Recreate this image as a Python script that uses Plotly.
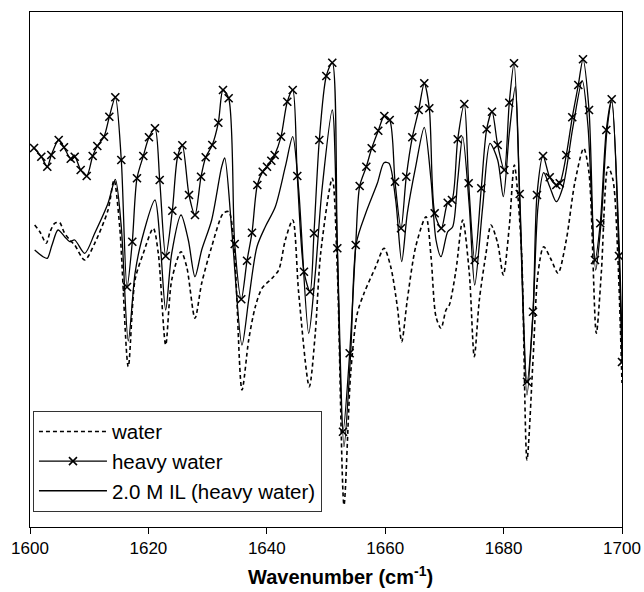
import plotly.graph_objects as go

# Wavenumber (cm-1) and second-derivative-like intensities (arbitrary units)
water_wn = [1600.79, 1601.69, 1602.75, 1603.38, 1604.17, 1605.02, 1605.74, 1606.71, 1607.55, 1609.24,
            1610.93, 1613.18, 1614.19, 1615.15, 1616.60, 1617.74, 1619.14, 1620.83, 1621.67, 1622.92,
            1623.94, 1625.51, 1626.47, 1627.87, 1629.00, 1630.69, 1632.65, 1633.56, 1634.41, 1635.81,
            1636.94, 1638.06, 1639.19, 1640.88, 1642.01, 1643.13, 1644.38, 1645.39, 1647.18, 1648.19,
            1649.10, 1651.06, 1651.91, 1653.04, 1654.17, 1655.29, 1656.42, 1658.40, 1659.80, 1660.93,
            1662.05, 1662.79, 1663.73, 1665.15, 1666.89, 1667.74, 1668.58, 1669.43, 1670.27, 1670.83,
            1671.96, 1673.09, 1674.21, 1675.05, 1675.90, 1677.03, 1677.87, 1679.00, 1679.95, 1680.96,
            1681.81, 1682.99, 1683.95, 1684.97, 1685.81, 1686.77, 1688.06, 1689.19, 1690.59, 1692.01,
            1693.53, 1694.43, 1695.66, 1696.50, 1697.64, 1698.48, 1699.32, 1700.00]
water_val = [302, 295, 283.7, 295, 303.7, 304.3, 295, 287, 282, 267,
             283.7, 317, 347, 300.3, 160.3, 247, 273.7, 298.7, 273.7, 182,
             247, 275.3, 260.3, 208.7, 243.7, 280.3, 313.7, 315.3, 287, 137,
             187, 220.3, 238.7, 248.7, 257, 287, 307, 233.7, 140.3, 193.7,
             273.7, 348.7, 257, 22, 153.7, 213.7, 233.7, 260.3, 278.7, 260.3,
             220.3, 185.3, 227, 280.3, 310.3, 270.3, 210.3, 198.7, 217, 222,
             257, 307, 253.7, 170.3, 227, 273.7, 302, 283.7, 252, 300.3,
             362, 280.3, 67, 167, 253.7, 280.3, 267, 253.7, 287, 343.7,
             378.7, 353.7, 193.7, 253.7, 360.3, 347, 267, 144]

heavy_wn = [1600.68, 1601.91, 1602.92, 1603.60, 1604.85, 1605.74, 1606.88, 1607.55, 1608.56, 1609.58,
            1610.59, 1611.37, 1612.50, 1613.40, 1614.41, 1615.42, 1616.39, 1617.28, 1618.07, 1619.14,
            1620.10, 1621.11, 1621.91, 1622.92, 1624.04, 1624.95, 1625.73, 1626.86, 1627.87, 1628.89,
            1629.68, 1630.79, 1631.81, 1632.60, 1633.56, 1634.58, 1635.69, 1636.66, 1637.50, 1638.40,
            1639.31, 1640.03, 1640.76, 1641.33, 1642.40, 1643.46, 1644.38, 1645.15, 1646.28, 1647.30,
            1647.97, 1648.87, 1650.05, 1651.06, 1651.91, 1652.87, 1654.00, 1655.02, 1655.69, 1656.81,
            1657.72, 1658.83, 1659.85, 1660.76, 1661.66, 1662.67, 1663.56, 1664.58, 1665.66, 1666.60,
            1667.45, 1668.36, 1669.48, 1670.56, 1671.28, 1672.25, 1673.36, 1674.10, 1675.12, 1676.23,
            1677.14, 1678.04, 1679.00, 1680.12, 1680.96, 1681.76, 1682.72, 1683.95, 1684.97, 1685.64,
            1686.66, 1687.79, 1688.90, 1689.48, 1690.59, 1691.60, 1692.62, 1693.41, 1694.43, 1695.44,
            1696.33, 1697.35, 1698.26, 1699.49, 1700.00]
heavy_val = [379, 370.3, 360.3, 372, 387, 379.7, 368.3, 370.3, 357, 351,
             371, 381, 390.3, 410.3, 429.7, 367, 240, 285.3, 348.7, 371,
             389.7, 398.7, 347, 271, 316.3, 371, 381.7, 332, 312, 350.3,
             369.7, 382, 404.3, 437, 428.7, 283, 227.7, 266.3, 294.3, 342,
             355.3, 360.3, 366.3, 372, 390.3, 425.3, 437, 351, 255.3, 235.3,
             293.7, 387, 451, 464.3, 278.7, 95.3, 173.7, 282, 341, 360.3,
             378.7, 396.3, 411, 407, 345.3, 298.7, 350.3, 389.7, 417, 443.7,
             418.7, 313.7, 298.7, 324.3, 327, 387.7, 423, 343.7, 267, 338.7,
             397.7, 415.3, 382, 357, 424.3, 463.7, 333, 145.3, 215.3, 332,
             371, 349.7, 342, 343.7, 372, 409.7, 442, 467.7, 417, 267,
             303.7, 397, 427.7, 271, 165]

il_wn = [1600.79, 1602.20, 1602.92, 1603.72, 1604.73, 1605.86, 1606.71, 1607.55, 1609.24, 1610.93,
         1613.18, 1614.41, 1615.42, 1616.60, 1617.74, 1618.87, 1621.11, 1621.96, 1622.92, 1623.94,
         1625.51, 1626.74, 1627.87, 1629.00, 1630.69, 1632.38, 1632.89, 1634.12, 1635.81, 1636.94,
         1638.34, 1639.75, 1641.44, 1643.13, 1644.38, 1645.39, 1647.08, 1648.19, 1649.32, 1651.06,
         1651.91, 1653.04, 1654.17, 1655.12, 1656.71, 1658.67, 1659.80, 1660.64, 1661.77, 1662.79,
         1663.73, 1665.15, 1666.60, 1667.74, 1668.58, 1669.43, 1670.56, 1671.40, 1672.25, 1673.09,
         1674.21, 1675.12, 1676.47, 1677.70, 1679.00, 1679.95, 1680.96, 1681.98, 1682.72, 1683.95,
         1684.97, 1685.81, 1686.77, 1687.79, 1688.90, 1690.03, 1691.72, 1693.29, 1694.26, 1695.56,
         1696.50, 1697.47, 1698.26, 1699.49, 1700.00]
il_val = [277, 270.3, 268.7, 282, 297, 290.3, 285.3, 287, 273.7, 293.7,
          323.7, 347.7, 300.3, 186, 253.7, 287, 327, 287, 217, 273.7,
          312, 287, 250.3, 277, 307, 360.3, 369, 294, 182, 227,
          280.3, 300.3, 320.3, 360.3, 390.3, 337, 193.7, 253.7, 337, 417,
          280.3, 80.3, 174, 283.7, 313.7, 343.7, 364.3, 363.7, 327, 265.3,
          313.7, 360.3, 399.7, 347, 287, 270.3, 295.3, 300.3, 347, 390.3,
          320.3, 242, 320.3, 383.7, 367, 330.3, 393.7, 440.3, 327, 132,
          213.7, 320.3, 354.3, 340.3, 325.3, 340.3, 400.3, 446.3, 400.3, 257,
          307, 397, 425.3, 287, 187]

x_ticks = [1600, 1620, 1640, 1660, 1680, 1700]
x_title = "<b>Wavenumber (cm<sup>-1</sup>)</b>"

FONT = "Liberation Sans, Arial, sans-serif"

fig = go.Figure()
fig.add_trace(go.Scatter(
    x=water_wn, y=water_val, name="water", mode="lines",
    line=dict(color="black", width=1.6, dash="4px,3px", shape="spline", smoothing=0.8),
))
fig.add_trace(go.Scatter(
    x=heavy_wn, y=heavy_val, name="heavy water", mode="lines+markers",
    line=dict(color="black", width=1.3, shape="spline", smoothing=0.8),
    marker=dict(symbol="x-thin", size=8, color="black", line=dict(color="black", width=1.6)),
))
fig.add_trace(go.Scatter(
    x=il_wn, y=il_val, name="2.0 M IL (heavy water)", mode="lines",
    line=dict(color="black", width=1.3, shape="spline", smoothing=0.8),
))

fig.add_annotation(
    text=x_title, xref="paper", yref="paper", x=0.524, y=-0.095,
    xanchor="center", yanchor="middle", showarrow=False,
    font=dict(size=20, family=FONT, color="black"),
)

fig.update_layout(
    width=644, height=592,
    margin=dict(l=30, r=22, t=12, b=65, autoexpand=False),
    plot_bgcolor="white", paper_bgcolor="white",
    font=dict(family=FONT, color="black"),
    showlegend=True,
    legend=dict(
        x=0.005, y=0.226, xanchor="left", yanchor="top",
        bgcolor="white", bordercolor="#333333", borderwidth=1,
        font=dict(size=20.5, family=FONT, color="black"),
        itemwidth=68, tracegroupgap=0,
    ),
    xaxis=dict(
        range=[1600, 1700], tickvals=x_ticks, ticks="outside", ticklen=6,
        tickcolor="black", showline=True, linecolor="black", linewidth=1,
        mirror=True, showgrid=False, zeroline=False, automargin=False,
        tickfont=dict(size=17, family=FONT, color="black"),
    ),
    yaxis=dict(
        range=[0, 515], showticklabels=False, ticks="", showline=True,
        linecolor="black", linewidth=1, mirror=True, showgrid=False, zeroline=False,
        automargin=False,
    ),
)

fig.write_html("out.html")
